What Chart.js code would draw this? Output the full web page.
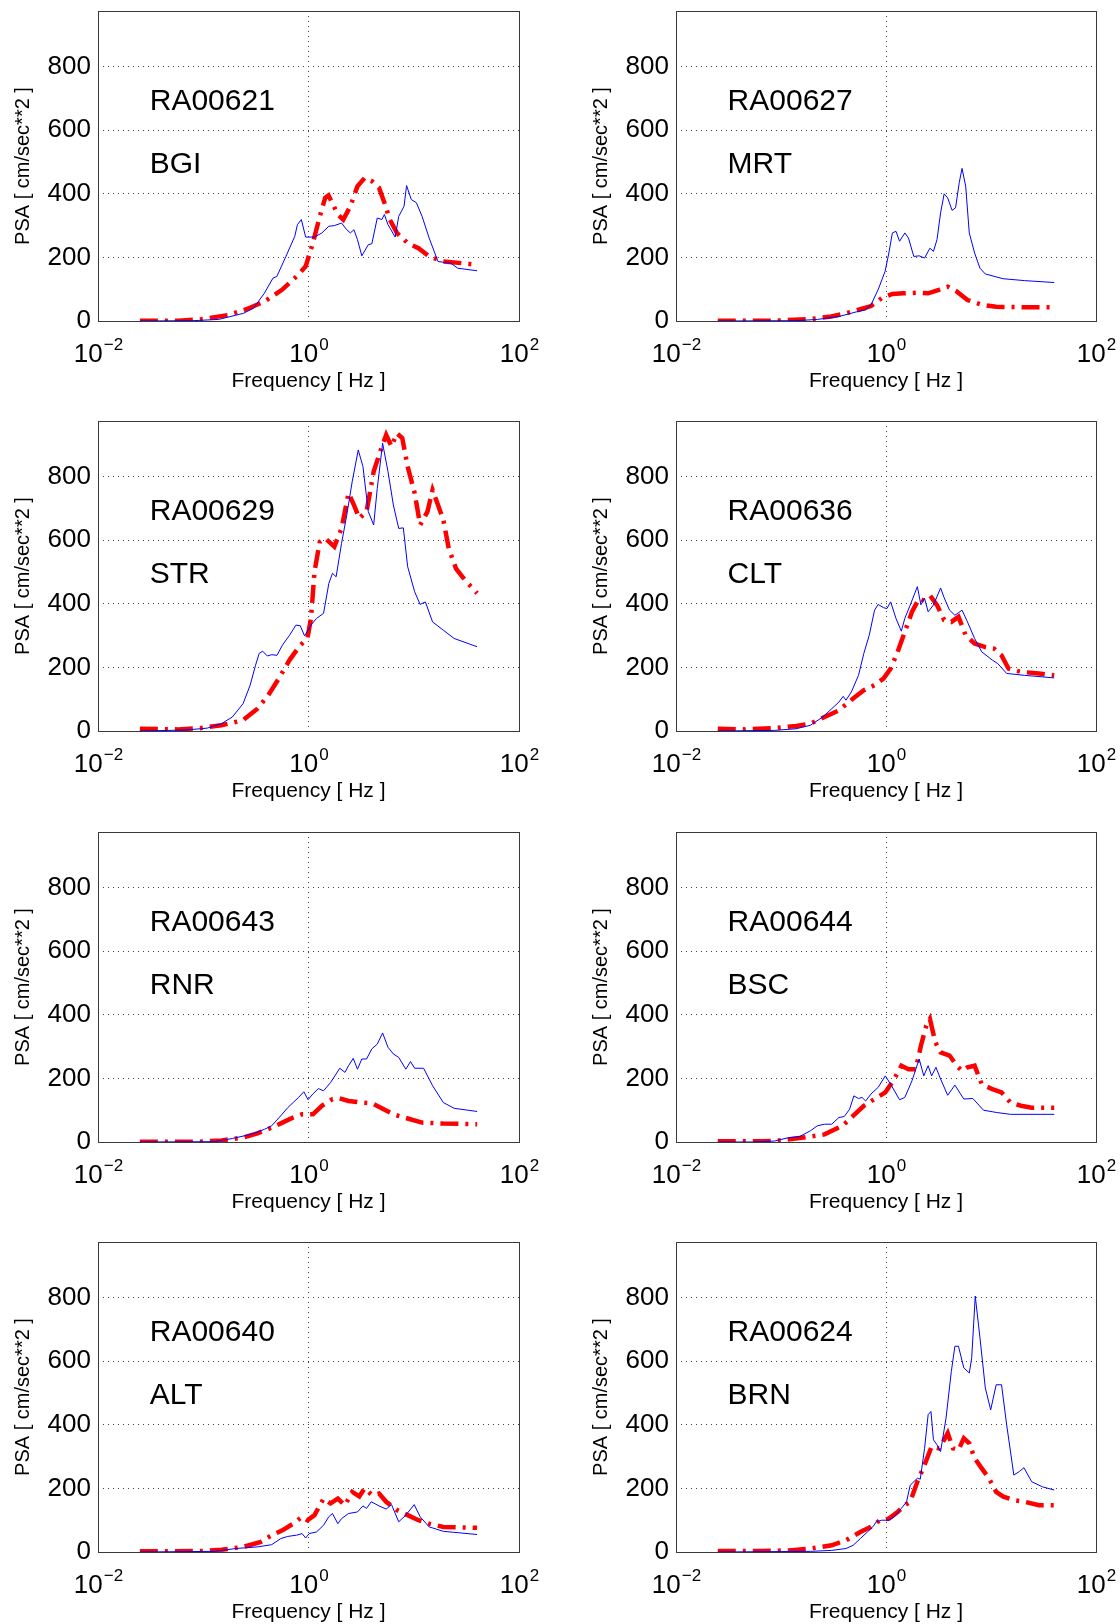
<!DOCTYPE html>
<html>
<head>
<meta charset="utf-8">
<script src="https://cdn.jsdelivr.net/npm/chart.js@4.4.1/dist/chart.umd.min.js"></script>
<style>
  body { margin: 0; background: #fff; width: 1120px; height: 1624px; overflow: hidden; position: relative; }
  canvas { position: absolute; }
</style>
</head>
<body>

<script>
// station labels
var stationCodes = ['RA00621', 'RA00627', 'RA00629', 'RA00636', 'RA00643', 'RA00644', 'RA00640', 'RA00624'];
var stationNames = ['BGI', 'MRT', 'STR', 'CLT', 'RNR', 'BSC', 'ALT', 'BRN'];

// axis ticks
var xTickValues = [0.01, 1, 100];
var yTickValues = [0, 200, 400, 600, 800];

// [frequency Hz, PSA cm/s^2] - blue solid / red dash-dot
var bgiBlue = [[0.025,0],[0.08,1],[0.14,5],[0.24,24],[0.30,40],[0.38,87],[0.46,135],[0.50,140],[0.61,203],[0.74,266],[0.785,303],[0.855,319],[0.94,264],[1.14,264],[1.34,277],[1.56,298],[1.76,300],[2.06,308],[2.31,287],[2.5,277],[2.7,287],[2.92,256],[3.21,205],[3.7,240],[4.0,243],[4.5,324],[4.98,319],[5.26,335],[5.69,303],[6.66,264],[7.2,329],[8.09,361],[8.55,426],[9.47,382],[10.6,372],[12,329],[14,261],[17,187],[22.4,182],[26.2,166],[40,158]];
var bgiRed = [[0.025,1],[0.058,1],[0.093,5],[0.174,19],[0.257,37],[0.38,61],[0.56,98],[0.77,140],[0.94,172],[1.10,245],[1.28,329],[1.44,387],[1.55,395],[1.62,382],[1.90,335],[2.14,319],[2.5,361],[2.92,424],[3.42,450],[4.0,440],[4.68,419],[5.26,372],[5.92,319],[6.92,277],[8.75,245],[11.1,229],[14,203],[19.1,187],[28.3,182],[40,177]];

var mrtBlue = [[0.025,0],[0.139,1],[0.222,5],[0.356,14],[0.526,29],[0.64,35],[0.72,51],[0.84,98],[0.98,156],[1.065,214],[1.15,277],[1.245,282],[1.346,251],[1.514,277],[1.637,261],[1.84,203],[2.07,205],[2.33,198],[2.62,229],[2.83,219],[3.06,256],[3.31,340],[3.58,400],[3.87,387],[4.26,348],[4.6,356],[4.98,435],[5.3,480],[5.74,424],[6.21,277],[6.98,214],[7.85,166],[8.83,148],[13,133],[20.9,127],[40,121]];
var mrtRed = [[0.025,1],[0.087,1],[0.19,6],[0.30,14],[0.416,24],[0.57,37],[0.72,47],[0.91,72],[1.15,85],[1.46,87],[1.99,89],[2.52,87],[3.19,98],[3.87,108],[4.71,93],[5.97,66],[8.13,51],[11.2,45],[20.9,43],[40,43]];

var strBlue = [[0.025,0],[0.068,3],[0.109,9],[0.149,23],[0.189,44],[0.239,86],[0.279,144],[0.314,207],[0.34,244],[0.367,251],[0.406,236],[0.447,240],[0.502,238],[0.565,270],[0.66,301],[0.76,333],[0.835,331],[0.918,299],[1.056,333],[1.19,354],[1.39,370],[1.56,464],[1.69,496],[1.83,485],[2.06,590],[2.31,679],[2.6,784],[2.97,884],[3.29,832],[3.7,690],[4.16,648],[4.5,763],[5.06,905],[5.69,816],[6.4,711],[7.2,637],[7.96,639],[8.75,517],[10.2,438],[11.5,398],[12.9,406],[15.1,343],[19.1,317],[24.2,291],[40,265]];
var strRed = [[0.025,7],[0.058,5],[0.093,9],[0.149,18],[0.239,34],[0.327,70],[0.413,112],[0.522,165],[0.66,223],[0.835,270],[0.977,291],[1.056,354],[1.14,501],[1.28,595],[1.44,606],[1.76,580],[2.06,637],[2.4,748],[2.7,711],[3.04,669],[3.56,690],[4.16,816],[4.86,884],[5.47,931],[6.15,895],[6.92,936],[7.78,921],[8.75,832],[10.2,748],[11.5,648],[13.5,690],[15.1,758],[17,711],[19.1,664],[21.5,574],[25.2,511],[30.6,475],[40,433]];

var cltBlue = [[0.025,0],[0.087,2],[0.139,7],[0.19,18],[0.25,44],[0.304,70],[0.356,91],[0.391,109],[0.416,97],[0.468,123],[0.547,175],[0.615,244],[0.692,301],[0.778,380],[0.841,398],[0.946,388],[1.02,385],[1.107,406],[1.245,354],[1.40,314],[1.51,354],[1.70,396],[1.99,454],[2.15,397],[2.33,417],[2.52,375],[2.83,396],[3.31,450],[3.58,419],[4.03,380],[4.53,364],[5.3,380],[5.97,343],[6.98,291],[8.16,249],[10.3,223],[11.6,212],[14.1,181],[20.9,175],[40,167]];
var cltRed = [[0.025,7],[0.046,5],[0.087,9],[0.139,16],[0.19,23],[0.26,44],[0.356,65],[0.486,102],[0.615,128],[0.778,144],[0.946,165],[1.107,196],[1.29,249],[1.51,312],[1.77,375],[2.07,417],[2.42,406],[2.72,419],[3.06,396],[3.58,349],[4.19,343],[4.9,359],[5.74,301],[6.98,275],[8.83,264],[10.7,259],[12.6,238],[14.7,196],[19.3,186],[28.6,181],[40,175]];

var rnrBlue = [[0.025,0],[0.127,1],[0.189,11],[0.258,21],[0.302,27],[0.382,40],[0.447,51],[0.543,82],[0.635,108],[0.714,124],[0.803,140],[0.903,158],[0.99,133],[1.10,151],[1.24,168],[1.39,161],[1.62,187],[1.83,214],[1.98,232],[2.22,219],[2.4,240],[2.66,263],[2.92,229],[3.21,261],[3.56,261],[4.0,293],[4.5,308],[5.06,343],[5.69,298],[6.4,277],[7.2,266],[8.41,229],[9.31,253],[10.2,232],[12.4,232],[15.1,177],[19.1,124],[24.2,106],[40,96]];
var rnrRed = [[0.025,1],[0.093,1],[0.149,5],[0.239,14],[0.327,27],[0.447,45],[0.565,61],[0.714,77],[0.869,87],[1.10,87],[1.34,114],[1.69,135],[1.98,137],[2.4,129],[3.16,124],[4.0,122],[4.86,108],[6.4,87],[8.75,74],[12,61],[19.1,58],[40,56]];

var bscBlue = [[0.025,0],[0.054,0],[0.087,3],[0.119,14],[0.15,17],[0.19,35],[0.222,51],[0.26,56],[0.304,56],[0.356,77],[0.40,80],[0.45,103],[0.494,145],[0.547,137],[0.592,140],[0.64,129],[0.72,151],[0.842,172],[0.985,208],[1.107,182],[1.346,133],[1.51,140],[1.77,193],[2.07,261],[2.29,208],[2.52,240],[2.72,208],[2.99,235],[3.31,198],[3.87,147],[4.53,179],[5.51,135],[6.71,137],[8.49,100],[11.2,93],[15.3,87],[40,87]];
var bscRed = [[0.025,2],[0.064,2],[0.102,5],[0.163,14],[0.26,24],[0.385,51],[0.486,82],[0.615,114],[0.778,135],[0.985,156],[1.20,198],[1.40,240],[1.64,229],[1.92,229],[2.15,303],[2.42,366],[2.62,387],[2.95,314],[3.31,282],[4.03,272],[4.71,240],[5.3,224],[5.97,235],[6.98,240],[8.16,182],[10.3,166],[12.6,156],[15.3,124],[19.3,114],[24.4,108],[40,108]];

var altBlue = [[0.025,0],[0.127,2],[0.204,11],[0.327,16],[0.447,23],[0.543,42],[0.635,49],[0.773,53],[0.869,58],[0.94,44],[1.016,58],[1.19,63],[1.39,84],[1.56,111],[1.69,121],[1.90,89],[2.06,105],[2.4,121],[2.92,126],[3.29,145],[3.56,137],[3.94,158],[4.68,145],[5.47,135],[6.15,149],[7.2,95],[8.41,116],[10.1,149],[11.5,111],[14,79],[19.1,65],[40,55]];
var altRed = [[0.025,2],[0.093,3],[0.149,7],[0.239,16],[0.353,32],[0.447,53],[0.565,68],[0.714,89],[0.869,111],[0.977,100],[1.14,116],[1.39,168],[1.62,153],[1.90,168],[2.22,147],[2.6,189],[3.04,175],[3.42,200],[4.0,179],[4.68,184],[5.47,158],[6.92,132],[8.75,116],[11.1,100],[14,89],[19.1,79],[40,76]];

var brnBlue = [[0.025,0],[0.19,2],[0.304,5],[0.416,11],[0.486,21],[0.569,42],[0.665,63],[0.748,79],[0.809,95],[0.91,100],[1.065,100],[1.20,111],[1.40,137],[1.57,158],[1.70,210],[1.99,232],[2.12,229],[2.33,326],[2.52,432],[2.68,442],[2.83,353],[3.06,337],[3.31,316],[3.73,421],[4.19,568],[4.53,647],[4.9,647],[5.51,579],[6.21,563],[6.55,611],[7.08,805],[7.85,674],[8.83,516],[9.93,447],[11.2,526],[12.6,526],[14.1,400],[16.5,242],[18.6,253],[20.6,265],[24.4,221],[30.9,205],[40,195]];
var brnRed = [[0.025,3],[0.064,3],[0.119,5],[0.19,11],[0.304,21],[0.416,37],[0.569,63],[0.72,79],[0.875,100],[1.065,105],[1.29,126],[1.51,147],[1.70,158],[1.99,221],[2.33,274],[2.72,332],[3.19,326],[3.58,353],[3.87,374],[4.35,326],[4.9,321],[5.51,358],[6.21,342],[6.98,295],[8.16,263],[9.55,232],[11.2,189],[13.1,174],[16.5,163],[20.9,158],[28.6,147],[40,147]];

var blueSeries = [bgiBlue, mrtBlue, strBlue, cltBlue, rnrBlue, bscBlue, altBlue, brnBlue];
var redSeries = [bgiRed, mrtRed, strRed, cltRed, rnrRed, bscRed, altRed, brnRed];

var FONT = '"Liberation Sans", Arial, sans-serif';
var rowTops = [0, 410, 821, 1231];

function toXY(pts) {
  return pts.map(function(p) { return {x: p[0], y: p[1]}; });
}

// box, log tick labels and station text
var panelDecor = {
  id: 'panelDecor',
  afterDraw: function(chart) {
    var ctx = chart.ctx, a = chart.chartArea;
    var xs = chart.scales.x, ys = chart.scales.y;
    ctx.save();
    ctx.strokeStyle = '#3a3a3a';
    ctx.lineWidth = 1;
    ctx.strokeRect(Math.round(a.left) + 0.5, Math.round(a.top) + 0.5, Math.round(a.right - a.left), Math.round(a.bottom - a.top));

    ctx.fillStyle = '#000';
    ctx.textBaseline = 'alphabetic';
    xTickValues.forEach(function(v) {
      var e = Math.round(Math.log10(v));
      var ex = e < 0 ? '\u2212' + (-e) : String(e);
      ctx.font = '26px ' + FONT;
      var w1 = ctx.measureText('10').width;
      ctx.font = '17px ' + FONT;
      var w2 = ctx.measureText(ex).width;
      var x0 = xs.getPixelForValue(v) - (w1 + w2) / 2;
      var base = a.bottom + 41;
      ctx.font = '26px ' + FONT;
      ctx.textAlign = 'left';
      ctx.fillText('10', x0, base);
      ctx.font = '17px ' + FONT;
      ctx.fillText(ex, x0 + w1 + 1, base - 12);
    });

    var o = chart.options.plugins.panelDecor;
    ctx.font = '30px ' + FONT;
    ctx.textAlign = 'left';
    ctx.textBaseline = 'middle';
    ctx.fillText(o.code, xs.getPixelForValue(0.031), ys.getPixelForValue(690));
    ctx.fillText(o.name, xs.getPixelForValue(0.031), ys.getPixelForValue(490));
    ctx.restore();
  }
};

for (var i = 0; i < 8; i++) {
  var col = i % 2, row = Math.floor(i / 2);
  var cv = document.createElement('canvas');
  cv.width = 560; cv.height = 410;
  cv.style.left = (col * 560) + 'px';
  cv.style.top = rowTops[row] + 'px';
  document.body.appendChild(cv);

  new Chart(cv.getContext('2d'), {
    type: 'line',
    data: {
      datasets: [{
        data: toXY(blueSeries[i]),
        borderColor: '#0000ff',
        borderWidth: 1,
        pointRadius: 0,
        tension: 0
      }, {
        data: toXY(redSeries[i]),
        borderColor: '#ff0000',
        borderWidth: 4.5,
        borderDash: [18, 7, 3, 7],
        pointRadius: 0,
        tension: 0
      }]
    },
    options: {
      responsive: false,
      animation: false,
      devicePixelRatio: 1,
      layout: { padding: { left: col === 0 ? 0 : 18, right: col === 0 ? 41 : 24, top: 11, bottom: 0 } },
      plugins: {
        legend: { display: false },
        tooltip: { enabled: false },
        panelDecor: { code: stationCodes[i], name: stationNames[i] }
      },
      scales: {
        x: {
          type: 'logarithmic',
          min: 0.01,
          max: 100,
          afterBuildTicks: function(s) { s.ticks = xTickValues.map(function(v) { return {value: v}; }); },
          afterFit: function(s) { s.height = 89; s.paddingLeft = 0; s.paddingRight = 0; },
          ticks: { display: false },
          grid: {
            drawTicks: false,
            color: function(c) { return c.tick && c.tick.value === 1 ? '#444' : 'rgba(0,0,0,0)'; }
          },
          border: { display: false, dash: [1, 4] },
          title: { display: true, text: 'Frequency [ Hz ]', color: '#000', font: { family: FONT, size: 21 }, padding: { top: 0, bottom: 16 } }
        },
        y: {
          min: 0,
          max: 975,
          afterBuildTicks: function(s) { s.ticks = yTickValues.map(function(v) { return {value: v}; }); },
          afterFit: function(s) { s.width = 98; s.paddingTop = 0; s.paddingBottom = 0; },
          ticks: { color: '#000', font: { family: FONT, size: 26 }, padding: 7, callback: function(v) { return String(v); } },
          grid: {
            drawTicks: false,
            color: function(c) { return c.tick && c.tick.value === 0 ? 'rgba(0,0,0,0)' : '#444'; }
          },
          border: { display: false, dash: [1, 4] },
          title: { display: true, text: 'PSA [ cm/sec**2 ]', color: '#000', font: { family: FONT, size: 20 }, padding: { top: 11, bottom: 0 } }
        }
      }
    },
    plugins: [panelDecor]
  });
}
</script>
</body>
</html>
